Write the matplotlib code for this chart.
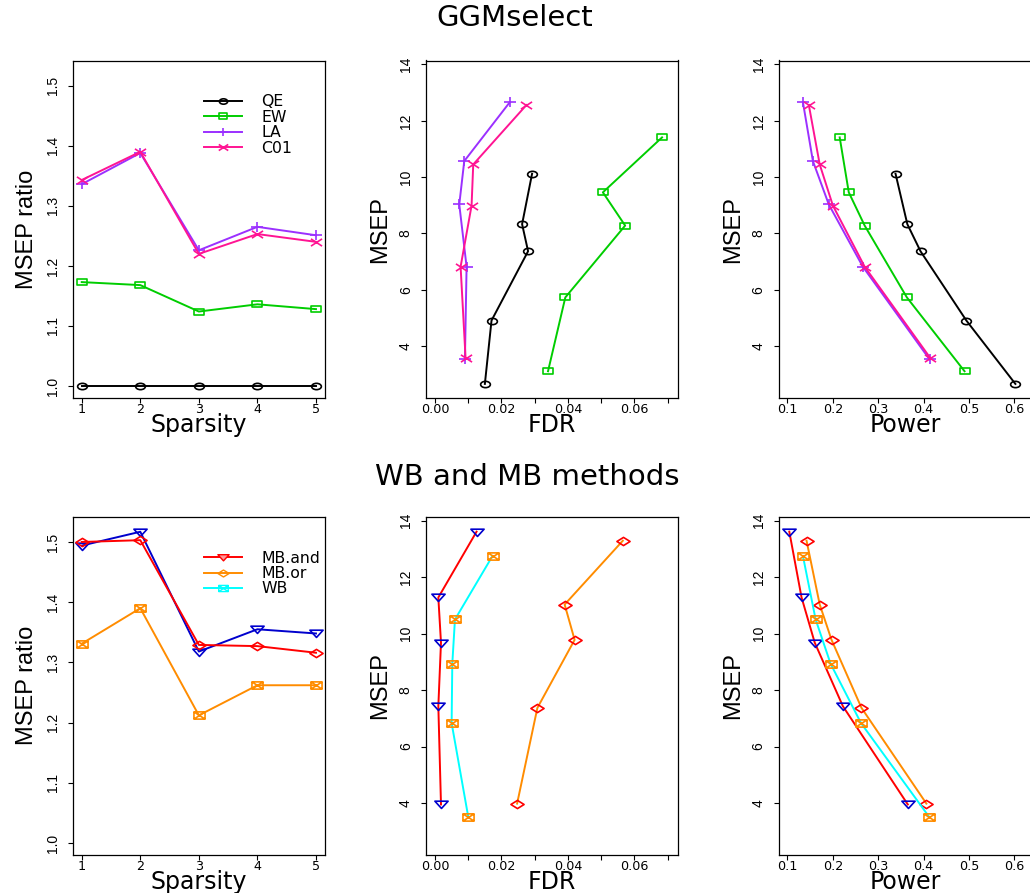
import numpy as np
import matplotlib
matplotlib.use("Agg")
import matplotlib.pyplot as plt
from matplotlib.path import Path
from matplotlib.transforms import Affine2D

# ---- data ----
sparsity = [1, 2, 3, 4, 5]

# GGMselect, MSEP ratio vs sparsity
ggm_ratio_qe = [1.000, 1.000, 1.000, 1.000, 1.000]
ggm_ratio_ew = [1.173, 1.168, 1.124, 1.136, 1.128]
ggm_ratio_la = [1.336, 1.388, 1.226, 1.265, 1.251]
ggm_ratio_c01 = [1.343, 1.390, 1.220, 1.253, 1.240]

# GGMselect, MSEP / FDR / Power
qe_msep = [2.66, 4.91, 7.37, 8.33, 10.12]
qe_fdr = [0.0150, 0.0170, 0.0280, 0.0262, 0.0292]
qe_power = [0.602, 0.494, 0.393, 0.364, 0.338]
ew_msep = [3.11, 5.73, 8.28, 9.46, 11.41]
ew_fdr = [0.0340, 0.0392, 0.0572, 0.0505, 0.0683]
ew_power = [0.490, 0.363, 0.270, 0.235, 0.215]
la_msep = [3.53, 6.82, 9.03, 10.57, 12.66]
la_fdr = [0.0090, 0.0095, 0.0073, 0.0088, 0.0225]
la_power = [0.413, 0.266, 0.191, 0.156, 0.134]
c01_msep = [3.57, 6.82, 8.99, 10.45, 12.56]
c01_fdr = [0.0092, 0.0077, 0.0110, 0.0115, 0.0275]
c01_power = [0.415, 0.270, 0.200, 0.171, 0.147]

# WB and MB methods, MSEP ratio vs sparsity
and_ratio = [1.494, 1.517, 1.318, 1.355, 1.348]
or_ratio = [1.500, 1.503, 1.329, 1.327, 1.316]
wb_ratio = [1.331, 1.390, 1.212, 1.262, 1.262]

# WB and MB methods, MSEP / FDR / Power
and_msep = [3.95, 7.43, 9.68, 11.28, 13.61]
and_fdr = [0.0018, 0.0010, 0.0018, 0.0010, 0.0125]
and_power = [0.365, 0.222, 0.160, 0.131, 0.104]
or_msep = [3.98, 7.37, 9.78, 11.03, 13.29]
or_fdr = [0.0247, 0.0308, 0.0420, 0.0390, 0.0565]
or_power = [0.406, 0.263, 0.197, 0.171, 0.142]
wb_msep = [3.51, 6.83, 8.93, 10.50, 12.75]
wb_fdr = [0.0100, 0.0050, 0.0052, 0.0060, 0.0173]
wb_power = [0.412, 0.262, 0.195, 0.162, 0.134]

top_names = ["QE", "EW", "LA", "C01"]
bottom_names = ["MB.and", "MB.or", "WB"]

# ---- R-like markers (the picture is stretched sideways) ----
SQ = 0.65
M, L, C = Path.MOVETO, Path.LINETO, Path.CLOSEPOLY
m_circle = Path.unit_circle().transformed(Affine2D().scale(1, SQ))
m_square = Path([(-1, -SQ), (1, -SQ), (1, SQ), (-1, SQ), (-1, -SQ)], [M, L, L, L, C])
m_plus = Path([(-1, 0), (1, 0), (0, -0.8), (0, 0.8)], [M, L, M, L])
m_cross = Path([(-1, -SQ), (1, SQ), (-1, SQ), (1, -SQ)], [M, L, M, L])
m_tri = Path([(-1, 0.5), (1, 0.5), (0, -0.6), (-1, 0.5)], [M, L, L, C])
m_diam = Path([(-1, 0), (0, 0.62), (1, 0), (0, -0.62), (-1, 0)], [M, L, L, L, C])
m_boxx = Path([(-0.8, -SQ * 0.8), (0.8, -SQ * 0.8), (0.8, SQ * 0.8), (-0.8, SQ * 0.8), (-0.8, -SQ * 0.8),
               (-0.8, -SQ * 0.8), (0.8, SQ * 0.8), (-0.8, SQ * 0.8), (0.8, -SQ * 0.8)],
              [M, L, L, L, C, M, L, M, L])

c_black, c_green, c_purple, c_pink = "black", "#00CD00", "#9B30FF", "#FF1493"
c_red, c_blue, c_orange, c_cyan = "#FF0000", "#0000CD", "#FF8C00", "#00FFFF"

W, H = 1030, 893
fig = plt.figure(figsize=(W / 100, H / 100), dpi=100)

HFONT = ["DejaVu Sans"]
VFONT = ["Liberation Sans Narrow", "Liberation Sans"]


def px_axes(left, top, right, bottom):
    return fig.add_axes([left / W, 1 - bottom / H, (right - left) / W, (bottom - top) / H])


def style(ax, xlabel, ylabel, label_y):
    for s in ax.spines.values():
        s.set_linewidth(0.9)
    ax.tick_params(direction="out", length=3.3, width=0.8, top=False, right=False)
    ax.tick_params(axis="x", pad=0.4, labelsize=9.2)
    ax.tick_params(axis="y", pad=6, labelsize=10, labelrotation=90)
    for t in ax.get_xticklabels():
        t.set_family(HFONT)
    for t in ax.get_yticklabels():
        t.set_family(["Liberation Sans"])
        t.set_va("center")
    ax.set_xlabel(xlabel, fontsize=17, family=HFONT)
    ax.xaxis.label.set_va("baseline")
    ax.xaxis.set_label_coords(0.5, label_y)
    ax.set_ylabel(ylabel, fontsize=17, family=VFONT)
    ax.yaxis.label.set_va("baseline")
    ax.yaxis.set_label_coords(-0.156, 0.5)


def series(ax, x, y, lc, mk, mc, ms, label=None):
    ax.plot(x, y, color=lc, lw=1.4, marker=mk, markersize=ms, markerfacecolor="none",
            markeredgecolor=mc, markeredgewidth=1.2, label=label)


def ratio_axes(ax):
    ax.set_xlim(0.846, 5.154)
    ax.set_ylim(0.98, 1.542)
    ax.set_xticks(sparsity)
    ax.set_xticklabels([str(s) for s in sparsity])
    ticks = [1.0, 1.1, 1.2, 1.3, 1.4, 1.5]
    ax.set_yticks(ticks)
    ax.set_yticklabels([f"{t:.1f}" for t in ticks])


def msep_y(ax):
    ticks = [4, 6, 8, 10, 12, 14]
    ax.set_ylim(2.16, 14.14)
    ax.set_yticks(ticks)
    ax.set_yticklabels([str(t) for t in ticks])


def fdr_x(ax):
    ticks = [0.00, 0.01, 0.02, 0.03, 0.04, 0.05, 0.06, 0.07]
    ax.set_xlim(-0.0028, 0.0731)
    ax.set_xticks(ticks)
    ax.set_xticklabels([f"{t:.2f}" if i % 2 == 0 else "" for i, t in enumerate(ticks)])


def power_x(ax):
    ticks = [0.1, 0.2, 0.3, 0.4, 0.5, 0.6]
    ax.set_xlim(0.0802, 0.6375)
    ax.set_xticks(ticks)
    ax.set_xticklabels([f"{t:.1f}" for t in ticks])


def add_legend(ax):
    leg = ax.legend(loc="upper left", bbox_to_anchor=(0.52, 0.9), frameon=False,
                    borderpad=0, borderaxespad=0, handlelength=2.45, handletextpad=1.2,
                    labelspacing=0.03, prop={"family": HFONT, "size": 11.3})
    for t in leg.get_texts():
        t.set_clip_on(True)
        t.set_clip_box(ax.bbox)
    for h in leg.legend_handles:
        h.set_markersize(h.get_markersize() * 0.85)
    return leg


# ---- top row: GGMselect ----
ax1 = px_axes(72.7, 60.5, 325, 398)
series(ax1, sparsity, ggm_ratio_qe, c_black, m_circle, c_black, 7, "QE")
series(ax1, sparsity, ggm_ratio_ew, c_green, m_square, c_green, 7, "EW")
series(ax1, sparsity, ggm_ratio_la, c_purple, m_plus, c_purple, 9, "LA")
series(ax1, sparsity, ggm_ratio_c01, c_pink, m_cross, c_pink, 8, "C01")
ratio_axes(ax1)
add_legend(ax1)
style(ax1, "Sparsity", "MSEP ratio", -0.102)

ax2 = px_axes(425.7, 60.5, 678, 398)
series(ax2, qe_fdr, qe_msep, c_black, m_circle, c_black, 7)
series(ax2, ew_fdr, ew_msep, c_green, m_square, c_green, 7)
series(ax2, la_fdr, la_msep, c_purple, m_plus, c_purple, 9)
series(ax2, c01_fdr, c01_msep, c_pink, m_cross, c_pink, 8)
fdr_x(ax2)
msep_y(ax2)
style(ax2, "FDR", "MSEP", -0.102)

ax3 = px_axes(778.5, 60.5, 1031.5, 398)
series(ax3, qe_power, qe_msep, c_black, m_circle, c_black, 7)
series(ax3, ew_power, ew_msep, c_green, m_square, c_green, 7)
series(ax3, la_power, la_msep, c_purple, m_plus, c_purple, 9)
series(ax3, c01_power, c01_msep, c_pink, m_cross, c_pink, 8)
power_x(ax3)
msep_y(ax3)
style(ax3, "Power", "MSEP", -0.102)

# ---- bottom row: WB and MB methods ----
ax4 = px_axes(72.7, 516.7, 325, 855)
series(ax4, sparsity, and_ratio, c_blue, m_tri, c_blue, 9.5)
series(ax4, sparsity, or_ratio, c_red, m_diam, c_red, 9.5)
series(ax4, sparsity, wb_ratio, c_orange, m_boxx, c_orange, 8)
ratio_axes(ax4)
# legend entries use the line colours of the other panels
ax4.plot([], [], color=c_red, lw=1.4, marker=m_tri, markersize=9.5, markerfacecolor="#FF9999",
         markeredgecolor=c_red, label=bottom_names[0])
ax4.plot([], [], color=c_orange, lw=1.4, marker=m_diam, markersize=9.5, markerfacecolor="none",
         markeredgecolor=c_orange, label=bottom_names[1])
ax4.plot([], [], color=c_cyan, lw=1.4, marker=m_boxx, markersize=8, markerfacecolor="none",
         markeredgecolor=c_cyan, label=bottom_names[2])
add_legend(ax4)
style(ax4, "Sparsity", "MSEP ratio", -0.101)

ax5 = px_axes(425.7, 516.7, 678, 855)
series(ax5, and_fdr, and_msep, c_red, m_tri, c_blue, 9.5)
series(ax5, or_fdr, or_msep, c_orange, m_diam, c_red, 9.5)
series(ax5, wb_fdr, wb_msep, c_cyan, m_boxx, c_orange, 8)
fdr_x(ax5)
msep_y(ax5)
style(ax5, "FDR", "MSEP", -0.101)

ax6 = px_axes(778.5, 516.7, 1031.5, 855)
series(ax6, and_power, and_msep, c_red, m_tri, c_blue, 9.5)
series(ax6, or_power, or_msep, c_orange, m_diam, c_red, 9.5)
series(ax6, wb_power, wb_msep, c_cyan, m_boxx, c_orange, 8)
power_x(ax6)
msep_y(ax6)
style(ax6, "Power", "MSEP", -0.101)

fig.text(515 / W, 1 - 18 / H, "GGMselect", ha="center", va="center", fontsize=21, family=HFONT)
fig.text(527 / W, 1 - 477 / H, "WB and MB methods", ha="center", va="center", fontsize=21, family=HFONT)

fig.savefig("out.png", dpi=100)
